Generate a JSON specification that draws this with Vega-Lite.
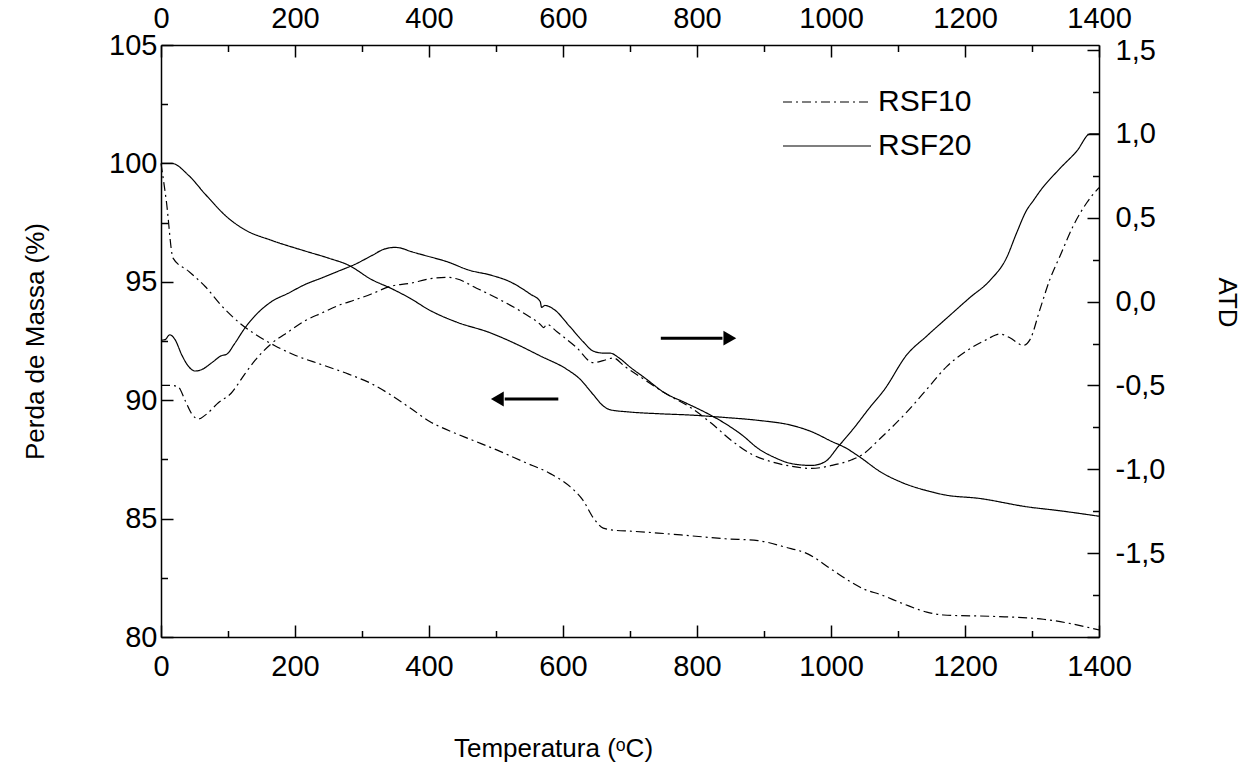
{
  "$schema": "https://vega.github.io/schema/vega-lite/v6.json",
  "width": 938,
  "height": 592,
  "autosize": {"type": "none"},
  "padding": {"left": 161, "top": 45, "right": 158, "bottom": 129},
  "background": "white",
  "config": {
    "view": {"stroke": null},
    "font": "Liberation Sans",
    "axis": {
      "grid": false,
      "domainColor": "black",
      "domainWidth": 1.5,
      "tickColor": "black",
      "tickWidth": 1.5,
      "labelFont": "Liberation Sans",
      "labelFontSize": 29,
      "labelColor": "black",
      "titleFont": "Liberation Sans",
      "titleFontSize": 26,
      "titleFontWeight": "normal",
      "titleColor": "black",
      "labelOverlap": false,
      "labelFlush": false
    },
    "legend": {
      "labelFont": "Liberation Sans",
      "labelFontSize": 30,
      "labelColor": "black"
    }
  },
  "datasets": {
    "tg": [
      {"T": 0, "massa": 100.0, "amostra": "RSF20"},
      {"T": 16, "massa": 100.0, "amostra": "RSF20"},
      {"T": 41, "massa": 99.5, "amostra": "RSF20"},
      {"T": 66, "massa": 98.7, "amostra": "RSF20"},
      {"T": 100, "massa": 97.7, "amostra": "RSF20"},
      {"T": 125, "massa": 97.2, "amostra": "RSF20"},
      {"T": 165, "massa": 96.75, "amostra": "RSF20"},
      {"T": 215, "massa": 96.3, "amostra": "RSF20"},
      {"T": 250, "massa": 96.0, "amostra": "RSF20"},
      {"T": 280, "massa": 95.7, "amostra": "RSF20"},
      {"T": 314, "massa": 95.1, "amostra": "RSF20"},
      {"T": 345, "massa": 94.7, "amostra": "RSF20"},
      {"T": 372, "massa": 94.3, "amostra": "RSF20"},
      {"T": 401, "massa": 93.8, "amostra": "RSF20"},
      {"T": 441, "massa": 93.3, "amostra": "RSF20"},
      {"T": 491, "massa": 92.85, "amostra": "RSF20"},
      {"T": 531, "massa": 92.36, "amostra": "RSF20"},
      {"T": 566, "massa": 91.87, "amostra": "RSF20"},
      {"T": 606, "massa": 91.3, "amostra": "RSF20"},
      {"T": 625, "massa": 90.9, "amostra": "RSF20"},
      {"T": 645, "massa": 90.24, "amostra": "RSF20"},
      {"T": 660, "massa": 89.76, "amostra": "RSF20"},
      {"T": 670, "massa": 89.6, "amostra": "RSF20"},
      {"T": 700, "massa": 89.5, "amostra": "RSF20"},
      {"T": 742, "massa": 89.43, "amostra": "RSF20"},
      {"T": 792, "massa": 89.37, "amostra": "RSF20"},
      {"T": 842, "massa": 89.27, "amostra": "RSF20"},
      {"T": 891, "massa": 89.15, "amostra": "RSF20"},
      {"T": 941, "massa": 88.94, "amostra": "RSF20"},
      {"T": 971, "massa": 88.67, "amostra": "RSF20"},
      {"T": 1001, "massa": 88.26, "amostra": "RSF20"},
      {"T": 1021, "massa": 88.0, "amostra": "RSF20"},
      {"T": 1043, "massa": 87.6, "amostra": "RSF20"},
      {"T": 1073, "massa": 86.99, "amostra": "RSF20"},
      {"T": 1108, "massa": 86.5, "amostra": "RSF20"},
      {"T": 1143, "massa": 86.18, "amostra": "RSF20"},
      {"T": 1170, "massa": 86.0, "amostra": "RSF20"},
      {"T": 1222, "massa": 85.85, "amostra": "RSF20"},
      {"T": 1292, "massa": 85.5, "amostra": "RSF20"},
      {"T": 1342, "massa": 85.33, "amostra": "RSF20"},
      {"T": 1400, "massa": 85.1, "amostra": "RSF20"},
      {"T": 0, "massa": 100.0, "amostra": "RSF10"},
      {"T": 8, "massa": 98.4, "amostra": "RSF10"},
      {"T": 18, "massa": 96.0, "amostra": "RSF10"},
      {"T": 41, "massa": 95.45, "amostra": "RSF10"},
      {"T": 66, "massa": 94.8, "amostra": "RSF10"},
      {"T": 90, "massa": 94.0, "amostra": "RSF10"},
      {"T": 120, "massa": 93.2, "amostra": "RSF10"},
      {"T": 140, "massa": 92.8, "amostra": "RSF10"},
      {"T": 170, "massa": 92.3, "amostra": "RSF10"},
      {"T": 200, "massa": 91.9, "amostra": "RSF10"},
      {"T": 240, "massa": 91.5, "amostra": "RSF10"},
      {"T": 280, "massa": 91.1, "amostra": "RSF10"},
      {"T": 314, "massa": 90.7, "amostra": "RSF10"},
      {"T": 342, "massa": 90.24, "amostra": "RSF10"},
      {"T": 372, "massa": 89.67, "amostra": "RSF10"},
      {"T": 401, "massa": 89.1, "amostra": "RSF10"},
      {"T": 431, "massa": 88.7, "amostra": "RSF10"},
      {"T": 466, "massa": 88.3, "amostra": "RSF10"},
      {"T": 501, "massa": 87.9, "amostra": "RSF10"},
      {"T": 541, "massa": 87.4, "amostra": "RSF10"},
      {"T": 581, "massa": 86.9, "amostra": "RSF10"},
      {"T": 611, "massa": 86.34, "amostra": "RSF10"},
      {"T": 630, "massa": 85.77, "amostra": "RSF10"},
      {"T": 645, "massa": 85.04, "amostra": "RSF10"},
      {"T": 660, "massa": 84.6, "amostra": "RSF10"},
      {"T": 680, "massa": 84.5, "amostra": "RSF10"},
      {"T": 700, "massa": 84.47, "amostra": "RSF10"},
      {"T": 742, "massa": 84.39, "amostra": "RSF10"},
      {"T": 792, "massa": 84.27, "amostra": "RSF10"},
      {"T": 842, "massa": 84.15, "amostra": "RSF10"},
      {"T": 891, "massa": 84.07, "amostra": "RSF10"},
      {"T": 931, "massa": 83.8, "amostra": "RSF10"},
      {"T": 966, "massa": 83.5, "amostra": "RSF10"},
      {"T": 1001, "massa": 82.85, "amostra": "RSF10"},
      {"T": 1031, "massa": 82.3, "amostra": "RSF10"},
      {"T": 1051, "massa": 82.0, "amostra": "RSF10"},
      {"T": 1073, "massa": 81.8, "amostra": "RSF10"},
      {"T": 1108, "massa": 81.4, "amostra": "RSF10"},
      {"T": 1143, "massa": 81.05, "amostra": "RSF10"},
      {"T": 1168, "massa": 80.93, "amostra": "RSF10"},
      {"T": 1242, "massa": 80.87, "amostra": "RSF10"},
      {"T": 1317, "massa": 80.75, "amostra": "RSF10"},
      {"T": 1400, "massa": 80.3, "amostra": "RSF10"}
    ],
    "atd": [
      {"T": 0, "atd": -0.23, "amostra": "RSF20"},
      {"T": 6, "atd": -0.227, "amostra": "RSF20"},
      {"T": 13, "atd": -0.198, "amostra": "RSF20"},
      {"T": 21, "atd": -0.227, "amostra": "RSF20"},
      {"T": 31, "atd": -0.318, "amostra": "RSF20"},
      {"T": 41, "atd": -0.386, "amostra": "RSF20"},
      {"T": 51, "atd": -0.414, "amostra": "RSF20"},
      {"T": 61, "atd": -0.405, "amostra": "RSF20"},
      {"T": 76, "atd": -0.364, "amostra": "RSF20"},
      {"T": 90, "atd": -0.323, "amostra": "RSF20"},
      {"T": 98, "atd": -0.314, "amostra": "RSF20"},
      {"T": 110, "atd": -0.25, "amostra": "RSF20"},
      {"T": 125, "atd": -0.159, "amostra": "RSF20"},
      {"T": 140, "atd": -0.086, "amostra": "RSF20"},
      {"T": 165, "atd": 0.0, "amostra": "RSF20"},
      {"T": 190, "atd": 0.05, "amostra": "RSF20"},
      {"T": 215, "atd": 0.102, "amostra": "RSF20"},
      {"T": 240, "atd": 0.141, "amostra": "RSF20"},
      {"T": 265, "atd": 0.182, "amostra": "RSF20"},
      {"T": 290, "atd": 0.223, "amostra": "RSF20"},
      {"T": 314, "atd": 0.273, "amostra": "RSF20"},
      {"T": 334, "atd": 0.314, "amostra": "RSF20"},
      {"T": 349, "atd": 0.323, "amostra": "RSF20"},
      {"T": 357, "atd": 0.32, "amostra": "RSF20"},
      {"T": 372, "atd": 0.3, "amostra": "RSF20"},
      {"T": 392, "atd": 0.277, "amostra": "RSF20"},
      {"T": 426, "atd": 0.239, "amostra": "RSF20"},
      {"T": 461, "atd": 0.186, "amostra": "RSF20"},
      {"T": 491, "atd": 0.159, "amostra": "RSF20"},
      {"T": 521, "atd": 0.118, "amostra": "RSF20"},
      {"T": 551, "atd": 0.045, "amostra": "RSF20"},
      {"T": 566, "atd": 0.0, "amostra": "RSF20"},
      {"T": 568, "atd": -0.034, "amostra": "RSF20"},
      {"T": 573, "atd": -0.023, "amostra": "RSF20"},
      {"T": 586, "atd": -0.045, "amostra": "RSF20"},
      {"T": 610, "atd": -0.148, "amostra": "RSF20"},
      {"T": 630, "atd": -0.239, "amostra": "RSF20"},
      {"T": 645, "atd": -0.295, "amostra": "RSF20"},
      {"T": 660, "atd": -0.307, "amostra": "RSF20"},
      {"T": 670, "atd": -0.307, "amostra": "RSF20"},
      {"T": 685, "atd": -0.34, "amostra": "RSF20"},
      {"T": 700, "atd": -0.39, "amostra": "RSF20"},
      {"T": 722, "atd": -0.455, "amostra": "RSF20"},
      {"T": 752, "atd": -0.545, "amostra": "RSF20"},
      {"T": 782, "atd": -0.602, "amostra": "RSF20"},
      {"T": 817, "atd": -0.67, "amostra": "RSF20"},
      {"T": 842, "atd": -0.727, "amostra": "RSF20"},
      {"T": 867, "atd": -0.795, "amostra": "RSF20"},
      {"T": 891, "atd": -0.875, "amostra": "RSF20"},
      {"T": 916, "atd": -0.93, "amostra": "RSF20"},
      {"T": 941, "atd": -0.966, "amostra": "RSF20"},
      {"T": 971, "atd": -0.977, "amostra": "RSF20"},
      {"T": 991, "atd": -0.955, "amostra": "RSF20"},
      {"T": 1011, "atd": -0.864, "amostra": "RSF20"},
      {"T": 1035, "atd": -0.75, "amostra": "RSF20"},
      {"T": 1057, "atd": -0.636, "amostra": "RSF20"},
      {"T": 1080, "atd": -0.523, "amostra": "RSF20"},
      {"T": 1113, "atd": -0.318, "amostra": "RSF20"},
      {"T": 1143, "atd": -0.205, "amostra": "RSF20"},
      {"T": 1178, "atd": -0.08, "amostra": "RSF20"},
      {"T": 1207, "atd": 0.023, "amostra": "RSF20"},
      {"T": 1237, "atd": 0.125, "amostra": "RSF20"},
      {"T": 1262, "atd": 0.261, "amostra": "RSF20"},
      {"T": 1277, "atd": 0.409, "amostra": "RSF20"},
      {"T": 1292, "atd": 0.545, "amostra": "RSF20"},
      {"T": 1302, "atd": 0.602, "amostra": "RSF20"},
      {"T": 1312, "atd": 0.659, "amostra": "RSF20"},
      {"T": 1342, "atd": 0.795, "amostra": "RSF20"},
      {"T": 1367, "atd": 0.898, "amostra": "RSF20"},
      {"T": 1387, "atd": 1.0, "amostra": "RSF20"},
      {"T": 1400, "atd": 1.0, "amostra": "RSF20"},
      {"T": 0, "atd": -0.5, "amostra": "RSF10"},
      {"T": 16, "atd": -0.5, "amostra": "RSF10"},
      {"T": 26, "atd": -0.51, "amostra": "RSF10"},
      {"T": 36, "atd": -0.59, "amostra": "RSF10"},
      {"T": 46, "atd": -0.67, "amostra": "RSF10"},
      {"T": 56, "atd": -0.7, "amostra": "RSF10"},
      {"T": 66, "atd": -0.677, "amostra": "RSF10"},
      {"T": 86, "atd": -0.602, "amostra": "RSF10"},
      {"T": 105, "atd": -0.545, "amostra": "RSF10"},
      {"T": 125, "atd": -0.432, "amostra": "RSF10"},
      {"T": 140, "atd": -0.352, "amostra": "RSF10"},
      {"T": 165, "atd": -0.25, "amostra": "RSF10"},
      {"T": 190, "atd": -0.18, "amostra": "RSF10"},
      {"T": 215, "atd": -0.114, "amostra": "RSF10"},
      {"T": 240, "atd": -0.068, "amostra": "RSF10"},
      {"T": 265, "atd": -0.023, "amostra": "RSF10"},
      {"T": 290, "atd": 0.011, "amostra": "RSF10"},
      {"T": 314, "atd": 0.045, "amostra": "RSF10"},
      {"T": 342, "atd": 0.091, "amostra": "RSF10"},
      {"T": 372, "atd": 0.109, "amostra": "RSF10"},
      {"T": 401, "atd": 0.136, "amostra": "RSF10"},
      {"T": 426, "atd": 0.145, "amostra": "RSF10"},
      {"T": 441, "atd": 0.136, "amostra": "RSF10"},
      {"T": 471, "atd": 0.08, "amostra": "RSF10"},
      {"T": 506, "atd": 0.011, "amostra": "RSF10"},
      {"T": 541, "atd": -0.068, "amostra": "RSF10"},
      {"T": 566, "atd": -0.136, "amostra": "RSF10"},
      {"T": 571, "atd": -0.155, "amostra": "RSF10"},
      {"T": 576, "atd": -0.136, "amostra": "RSF10"},
      {"T": 591, "atd": -0.18, "amostra": "RSF10"},
      {"T": 620, "atd": -0.273, "amostra": "RSF10"},
      {"T": 645, "atd": -0.364, "amostra": "RSF10"},
      {"T": 660, "atd": -0.352, "amostra": "RSF10"},
      {"T": 675, "atd": -0.336, "amostra": "RSF10"},
      {"T": 692, "atd": -0.386, "amostra": "RSF10"},
      {"T": 722, "atd": -0.466, "amostra": "RSF10"},
      {"T": 752, "atd": -0.545, "amostra": "RSF10"},
      {"T": 792, "atd": -0.636, "amostra": "RSF10"},
      {"T": 822, "atd": -0.727, "amostra": "RSF10"},
      {"T": 852, "atd": -0.83, "amostra": "RSF10"},
      {"T": 881, "atd": -0.909, "amostra": "RSF10"},
      {"T": 911, "atd": -0.955, "amostra": "RSF10"},
      {"T": 941, "atd": -0.982, "amostra": "RSF10"},
      {"T": 971, "atd": -0.995, "amostra": "RSF10"},
      {"T": 1001, "atd": -0.977, "amostra": "RSF10"},
      {"T": 1031, "atd": -0.943, "amostra": "RSF10"},
      {"T": 1048, "atd": -0.909, "amostra": "RSF10"},
      {"T": 1073, "atd": -0.818, "amostra": "RSF10"},
      {"T": 1113, "atd": -0.659, "amostra": "RSF10"},
      {"T": 1143, "atd": -0.523, "amostra": "RSF10"},
      {"T": 1173, "atd": -0.386, "amostra": "RSF10"},
      {"T": 1202, "atd": -0.295, "amostra": "RSF10"},
      {"T": 1232, "atd": -0.227, "amostra": "RSF10"},
      {"T": 1252, "atd": -0.193, "amostra": "RSF10"},
      {"T": 1267, "atd": -0.216, "amostra": "RSF10"},
      {"T": 1287, "atd": -0.261, "amostra": "RSF10"},
      {"T": 1297, "atd": -0.227, "amostra": "RSF10"},
      {"T": 1312, "atd": -0.045, "amostra": "RSF10"},
      {"T": 1327, "atd": 0.136, "amostra": "RSF10"},
      {"T": 1342, "atd": 0.273, "amostra": "RSF10"},
      {"T": 1362, "atd": 0.455, "amostra": "RSF10"},
      {"T": 1382, "atd": 0.591, "amostra": "RSF10"},
      {"T": 1400, "atd": 0.68, "amostra": "RSF10"}
    ],
    "setas": [
      {"Tinicio": 513, "Tfim": 593, "Tponta": 502, "massa": 90.05, "sentido": "esquerda"},
      {"Tinicio": 746, "Tfim": 838, "Tponta": 849, "massa": 92.62, "sentido": "direita"}
    ]
  },
  "layer": [
    {
      "layer": [
        {
          "data": {"name": "tg"},
          "mark": {"type": "line", "color": "black", "strokeWidth": 1.2, "interpolate": "monotone"},
          "encoding": {
            "x": {
              "field": "T", "type": "quantitative",
              "scale": {"domain": [0, 1400], "nice": false, "zero": false},
              "axis": {
                "orient": "bottom",
                "values": [0, 100, 200, 300, 400, 500, 600, 700, 800, 900, 1000, 1100, 1200, 1300, 1400],
                "format": "d",
                "labelExpr": "datum.value % 200 === 0 ? datum.label : ''",
                "tickSize": {"condition": {"test": "datum.value % 200 === 0", "value": -12}, "value": -6.5},
                "labelPadding": 27,
                "title": "Temperatura (ᵒC)",
                "titleX": 392,
                "titleY": 111,
                "titleAlign": "center",
                "titleBaseline": "middle"
              }
            },
            "y": {
              "field": "massa", "type": "quantitative",
              "scale": {"domain": [80, 105], "nice": false, "zero": false},
              "axis": {
                "orient": "left",
                "values": [80, 82.5, 85, 87.5, 90, 92.5, 95, 97.5, 100, 102.5, 105],
                "format": "d",
                "labelExpr": "datum.value % 5 === 0 ? datum.label : ''",
                "tickSize": {"condition": {"test": "datum.value % 5 === 0", "value": -12}, "value": -6.5},
                "labelPadding": 16,
                "title": "Perda de Massa (%)",
                "titleX": -126,
                "titleY": 296,
                "titleAngle": -90,
                "titleAlign": "center",
                "titleBaseline": "middle"
              }
            },
            "strokeDash": {
              "field": "amostra", "type": "nominal",
              "scale": {"domain": ["RSF10", "RSF20"], "range": [[9, 4, 2, 4], [1, 0]]},
              "legend": {
                "title": null,
                "orient": "none",
                "legendX": 621,
                "legendY": 35,
                "padding": 0,
                "symbolType": "stroke",
                "symbolSize": 7744,
                "symbolStrokeWidth": 1.2,
                "symbolStrokeColor": "black",
                "clipHeight": 44,
                "rowPadding": 0,
                "labelOffset": 6,
                "labelFontSize": 30
              }
            }
          }
        },
        {
          "data": {"name": "setas"},
          "mark": {"type": "rule", "color": "black", "strokeWidth": 3},
          "encoding": {
            "x": {"field": "Tinicio", "type": "quantitative", "scale": {"domain": [0, 1400], "nice": false, "zero": false}},
            "x2": {"field": "Tfim"},
            "y": {"field": "massa", "type": "quantitative", "scale": {"domain": [80, 105], "nice": false, "zero": false}}
          }
        },
        {
          "data": {"name": "setas"},
          "mark": {"type": "point", "filled": true, "color": "black", "opacity": 1, "size": 220, "strokeWidth": 0},
          "encoding": {
            "x": {"field": "Tponta", "type": "quantitative", "scale": {"domain": [0, 1400], "nice": false, "zero": false}},
            "y": {"field": "massa", "type": "quantitative", "scale": {"domain": [80, 105], "nice": false, "zero": false}},
            "shape": {
              "field": "sentido", "type": "nominal",
              "scale": {"domain": ["esquerda", "direita"], "range": ["triangle-left", "triangle-right"]},
              "legend": null
            }
          }
        }
      ]
    },
    {
      "data": {"name": "atd"},
      "mark": {"type": "line", "color": "black", "strokeWidth": 1.2, "interpolate": "monotone"},
      "encoding": {
        "x": {
          "field": "T", "type": "quantitative",
          "scale": {"domain": [0, 1400], "nice": false, "zero": false},
          "axis": {
            "orient": "top",
            "values": [0, 100, 200, 300, 400, 500, 600, 700, 800, 900, 1000, 1100, 1200, 1300, 1400],
            "format": "d",
            "labelExpr": "datum.value % 200 === 0 ? datum.label : ''",
            "tickSize": {"condition": {"test": "datum.value % 200 === 0", "value": -12}, "value": -6.5},
            "labelPadding": 24,
            "title": null
          }
        },
        "y": {
          "field": "atd", "type": "quantitative",
          "scale": {"domain": [-2, 1.53], "nice": false, "zero": false},
          "axis": {
            "orient": "right",
            "values": [-2, -1.75, -1.5, -1.25, -1, -0.75, -0.5, -0.25, 0, 0.25, 0.5, 0.75, 1, 1.25, 1.5],
            "labelExpr": "(abs(datum.value * 2 - round(datum.value * 2)) < 0.001 && datum.value > -1.9) ? ((datum.value < 0 ? '-' : '') + replace(format(abs(datum.value), '.1f'), '.', ',')) : ''",
            "tickSize": {"condition": {"test": "abs(datum.value * 2 - round(datum.value * 2)) < 0.001", "value": -12}, "value": -6.5},
            "labelPadding": 28,
            "title": "ATD",
            "titleX": 127,
            "titleY": 257,
            "titleAngle": 90,
            "titleAlign": "center",
            "titleBaseline": "middle"
          }
        },
        "strokeDash": {
          "field": "amostra", "type": "nominal",
          "scale": {"domain": ["RSF10", "RSF20"], "range": [[9, 4, 2, 4], [1, 0]]},
          "legend": {
            "title": null,
            "orient": "none",
            "legendX": 621,
            "legendY": 35,
            "padding": 0,
            "symbolType": "stroke",
            "symbolSize": 7744,
            "symbolStrokeWidth": 1.2,
            "symbolStrokeColor": "black",
            "clipHeight": 44,
            "rowPadding": 0,
            "labelOffset": 6,
            "labelFontSize": 30
          }
        }
      }
    }
  ],
  "resolve": {"scale": {"y": "independent"}, "axis": {"x": "independent"}}
}
